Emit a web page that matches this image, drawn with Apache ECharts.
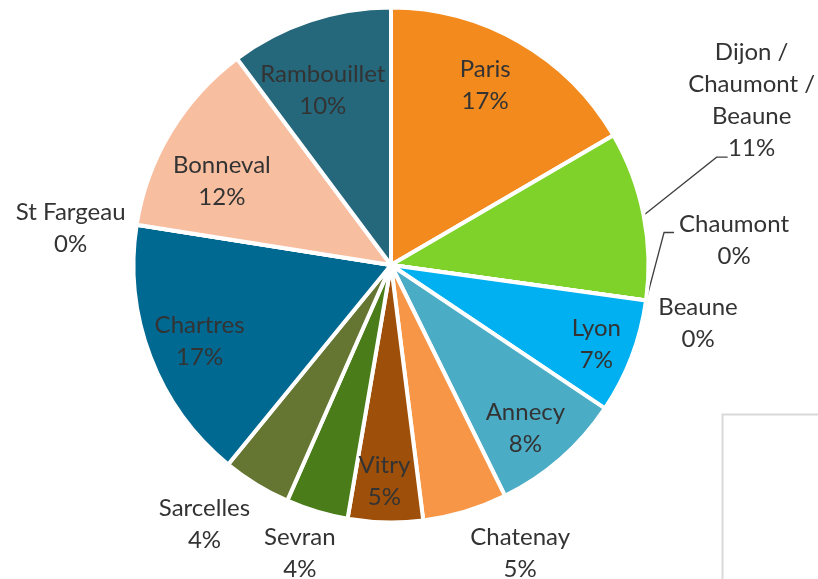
<!DOCTYPE html>
<html>
<head>
<meta charset="utf-8">
<script src="https://cdn.jsdelivr.net/npm/echarts@6/dist/echarts.min.js"></script>
<style>
  html, body { margin: 0; padding: 0; background: #fff; }
  #chart { width: 818px; height: 579px; }
</style>
</head>
<body>
<div id="chart"></div>
<script>
// sites, clockwise from 12 o'clock
const names = ['Paris', 'Dijon /\nChaumont /\nBeaune', 'Chaumont', 'Beaune', 'Lyon', 'Annecy',
  'Chatenay', 'Vitry', 'Sevran', 'Sarcelles', 'Chartres', 'St Fargeau', 'Bonneval', 'Rambouillet']
// share of total (%)
const values = [16.6, 10.6, 0, 0, 7.2, 8.3, 5.3, 4.7, 3.9, 4.3, 16.6, 0, 12.3, 10.2]
const colors = ['#F28A1E', '#7ED22A', '#7ED22A', '#00B0F0', '#00B0F0', '#4BACC6',
  '#F79646', '#9E500A', '#4A7D19', '#647632', '#006991', '#006991', '#F8BEA0', '#25687C']
// labels that sit outside the pie
const outsideNames = ['Dijon /\nChaumont /\nBeaune', 'Chaumont', 'Beaune', 'St Fargeau',
  'Sarcelles', 'Sevran', 'Chatenay']

// where outside labels go, relative to the slice edge point (px)
const outsideShift = {
  'Dijon /\nChaumont /\nBeaune': { pos: [108, -115], line: [[73, -58], [84, -58]] },
  'Chaumont': { pos: [88, -60], line: [[18, -68], [28, -68]] },
  'Beaune': { pos: [52, 23] },
  'St Fargeau': { pos: [-66, 4] },
  'Sarcelles': { pos: [-52, 40] },
  'Sevran': { pos: [-17, 42] },
  'Chatenay': { pos: [55, 42] }
}
// small nudges of the inside labels from their default spot (px)
const insideShift = {
  'Paris': [-9, 0],
  'Lyon': [12, 5],
  'Annecy': [-2, 8],
  'Vitry': [-2, 9],
  'Chartres': [2, 2],
  'Bonneval': [8, 23],
  'Rambouillet': [-3, 22]
}

const textStyle = {
  color: '#333333',
  fontFamily: 'Lato',
  fontSize: 24,
  lineHeight: 32
}
const pctLabel = p => p.name + '\n' + Math.round(p.percent) + '%'

const chart = echarts.init(document.getElementById('chart'))
chart.setOption({
  animation: false,
  graphic: [{
    type: 'rect',
    left: 720,
    top: 412,
    shape: { width: 140, height: 200 },
    style: { fill: 'none', stroke: '#d9d9d9', lineWidth: 2 }
  }],
  series: [
    {
      // transparent ring that only carries the inside labels (mid radius = 0.8 R)
      type: 'pie',
      center: [391, 265],
      radius: [153, 255],
      silent: true,
      itemStyle: { color: 'rgba(0,0,0,0)', borderWidth: 0 },
      label: Object.assign({ position: 'inside', formatter: pctLabel }, textStyle),
      labelLine: { show: false },
      labelLayout: function (params) {
        const d = insideShift[names[params.dataIndex]]
        if (!d) return {}
        const r = params.labelRect
        return {
          x: r.x + r.width / 2 + d[0],
          y: r.y + r.height / 2 + d[1],
          align: 'center',
          verticalAlign: 'middle'
        }
      },
      data: names.map((n, i) => ({
        name: n,
        value: values[i],
        label: { show: !outsideNames.includes(n) }
      }))
    },
    {
      // slices + outside labels
      type: 'pie',
      center: [391, 265],
      radius: 257.5,
      avoidLabelOverlap: false,
      itemStyle: { borderColor: '#fff', borderWidth: 4 },
      label: Object.assign({ show: false, position: 'outside', formatter: pctLabel }, textStyle),
      labelLine: { show: true, length: 4, length2: 4, lineStyle: { color: '#404040', width: 1.3, opacity: 1 } },
      labelLayout: function (params) {
        const s = outsideShift[names[params.dataIndex]]
        if (!s || !params.labelLinePoints) return {}
        const p = params.labelLinePoints[0]
        const pts = s.line
          ? [p.slice(), [p[0] + s.line[0][0], p[1] + s.line[0][1]], [p[0] + s.line[1][0], p[1] + s.line[1][1]]]
          : [p.slice(), p.slice(), p.slice()]
        return {
          x: p[0] + s.pos[0],
          y: p[1] + s.pos[1],
          align: 'center',
          verticalAlign: 'middle',
          labelLinePoints: pts
        }
      },
      data: names.map((n, i) => ({
        name: n,
        value: values[i],
        itemStyle: { color: colors[i] },
        label: { show: outsideNames.includes(n) },
        labelLine: { show: true }
      }))
    }
  ]
})

// leader lines get their points after the first paint, so repaint once things settle
function repaint () {
  const zr = chart.getZr()
  zr.storage.getDisplayList(true).forEach(el => {
    if (el.type === 'polyline') el.markRedraw()
  })
  zr.refreshImmediately()
}
[0, 100, 300, 600].forEach(t => setTimeout(repaint, t))
</script>
</body>
</html>
